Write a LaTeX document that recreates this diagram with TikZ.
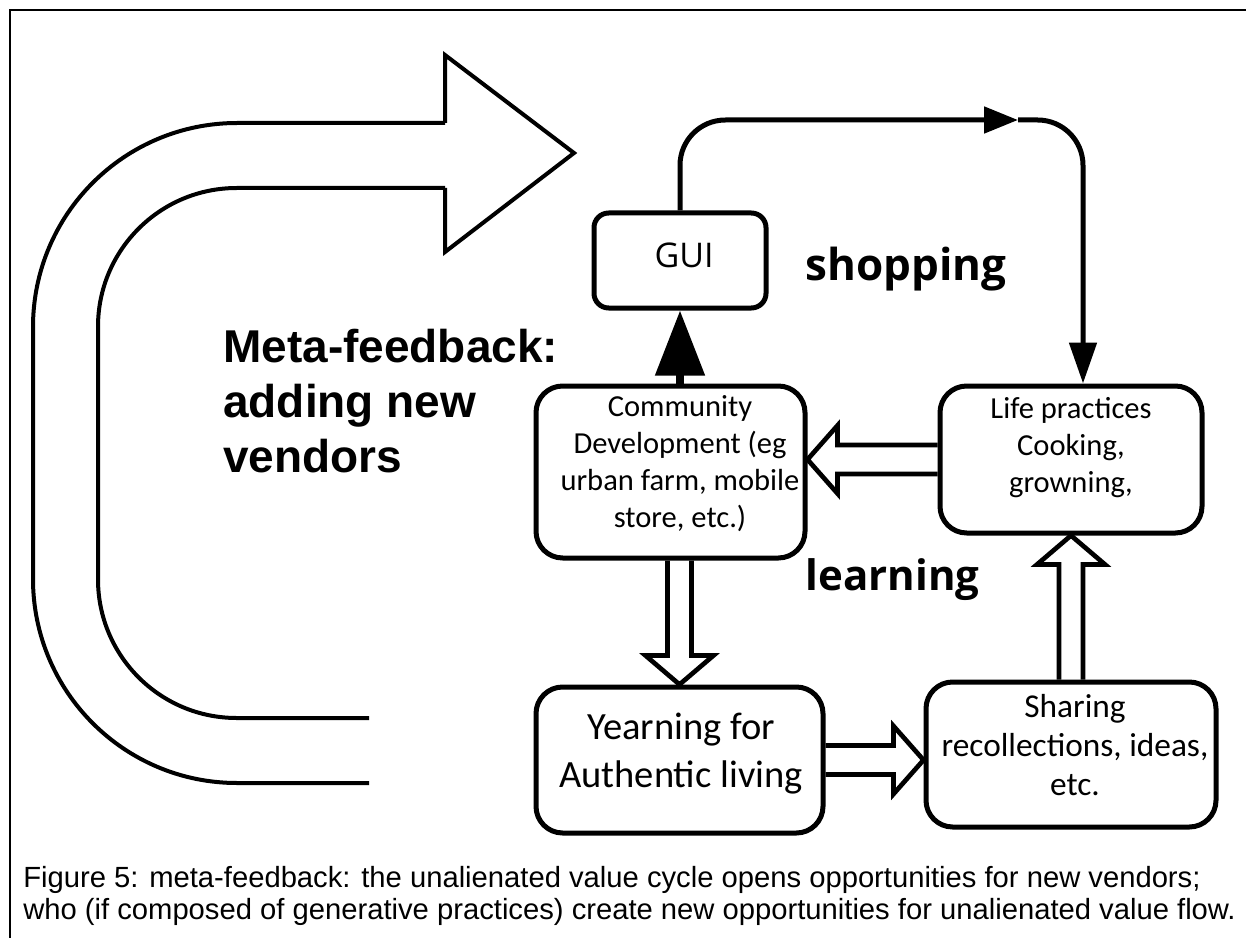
\documentclass[tikz,border=0pt]{standalone}
\usepackage{fontspec}
\setmainfont{Carlito}
\newfontfamily\capfont{Liberation Sans}
\newfontfamily\labfont{Open Sans}
\usetikzlibrary{arrows.meta,calc}

% hollow block arrow along a horizontal line: tail point, tip point
\newcommand{\hollowh}[2]{%
  \draw[blockarrow] let \p1=(#1), \p2=(#2), \n1={(\x2>\x1)?1:-1} in
    (\x1,\y1+10.9pt) -- ({\x2-\n1*22.5pt},\y1+10.9pt) -- ({\x2-\n1*22.5pt},\y1+25.5pt)
    -- (\x2,\y1) -- ({\x2-\n1*22.5pt},\y1-25.5pt) -- ({\x2-\n1*22.5pt},\y1-10.9pt)
    -- (\x1,\y1-10.9pt);}
% hollow block arrow along a vertical line: tail point, tip point
\newcommand{\hollowv}[2]{%
  \draw[blockarrow] let \p1=(#1), \p2=(#2), \n1={(\y2>\y1)?1:-1} in
    (\x1+9pt,\y1) -- (\x1+9pt,{\y2-\n1*21.75pt}) -- (\x1+25.5pt,{\y2-\n1*21.75pt})
    -- (\x1,\y2) -- (\x1-25.5pt,{\y2-\n1*21.75pt}) -- (\x1-9pt,{\y2-\n1*21.75pt})
    -- (\x1-9pt,\y1);}

\tikzset{
  box/.style 2 args={draw, line width=3.75pt, rounded corners=20pt, inner sep=0pt,
    minimum width=#1*0.75pt, minimum height=#2*0.75pt},
  boxtext/.style={align=center, inner sep=0pt},
  conn/.style={line width=3.75pt},
  blockarrow/.style={line width=3.5pt, line join=miter},
  bigarrow/.style={line width=3pt},
  label/.style={font=\labfont\bfseries\fontsize{31.5pt}{36pt}\selectfont, inner sep=0pt, anchor=base},
}

\begin{document}
\begin{tikzpicture}[x=0.75pt, y=-0.75pt]
\useasboundingbox (0,0) rectangle (1246,938);

% frame
\draw[line width=1.9pt] (10,938) -- (10,10) -- (1246,10);

% large curved feedback arrow
\draw[bigarrow, rounded corners=153pt] (369,783) -- (33,783) -- (33,123) -- (445,123);
\draw[bigarrow, rounded corners=104pt] (369,718) -- (98,718) -- (98,188) -- (445,188);
\draw[bigarrow, line join=miter] (445,123) -- (445,55) -- (574,153) -- (445,252) -- (445,188);

% boxes
\node[box={172}{95}, rounded corners=11pt] (gui) at (680,260.5) {};
\node[box={269}{172}] (cd) at (670.5,472) {};
\node[box={262}{147}] (life) at (1071,459.5) {};
\node[box={287}{146}] (yearn) at (679.5,760) {};
\node[box={290}{145}] (share) at (1071,754.5) {};

% box texts
\node[boxtext, font=\labfont\fontsize{25.5pt}{30pt}\selectfont] (guit) at (684,255) {GUI};
\node[boxtext, font=\fontsize{22.9pt}{27.75pt}\selectfont] (cdt) at (680,464)
  {Community\\Development (eg\\urban farm, mobile\\store, etc.)};
\node[boxtext, font=\fontsize{22.9pt}{27.75pt}\selectfont] (lifet) at (1071,448)
  {Life practices\\Cooking,\\growning,};
\node[boxtext, font=\fontsize{28.9pt}{36pt}\selectfont] (yearnt) at (681,754)
  {Yearning for\\Authentic living};
\node[boxtext, font=\fontsize{25pt}{29.25pt}\selectfont] (sharet) at (1075,745)
  {Sharing\\recollections, ideas,\\etc.};

% shopping loop
\coordinate (shopmid) at (1018,120);
\coordinate (shopturn) at (1083,120);
\draw[conn, rounded corners=34pt, -{Triangle[length=25.5pt,width=19.5pt]}]
  (gui.north) |- (shopmid);
\draw[conn, rounded corners=34pt, -{Triangle[length=30.75pt,width=20.25pt]}]
  (shopmid) -| (shopturn |- life.north);

% community development feeds the GUI
\draw[line width=6pt, -{Triangle[length=48.75pt,width=36pt]}]
  (cd.north -| gui.south) -- (gui.south);

% learning cycle
\hollowh{life.west}{cd.east |- life.west}
\hollowv{cd.south -| yearn.north}{yearn.north}
\hollowh{yearn.east}{share.west |- yearn.east}
\hollowv{share.north}{life.south}

% labels
\node[label, font=\labfont\bfseries\fontsize{33pt}{36pt}\selectfont] (shop) at (906,280) {shopping};
\node[label] (learn) at (892.5,590) {learning};
\node[anchor=base west, align=left, inner sep=0pt,
  font=\capfont\bfseries\fontsize{34.5pt}{41pt}\selectfont] (meta) at (223,472)
  {Meta-feedback:\\adding new\\vendors};

% caption
\node[anchor=base west, align=left, inner sep=0pt,
  font=\capfont\fontsize{21.9pt}{23.5pt}\selectfont] (cap) at (23,919)
  {Figure 5: meta-feedback: the unalienated value cycle opens opportunities for new vendors;\\
   who (if composed of generative practices) create new opportunities for unalienated value flow.};
\end{tikzpicture}
\end{document}
